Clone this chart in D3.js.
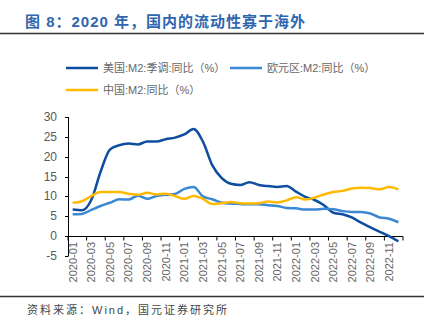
<!DOCTYPE html>
<html>
<head>
<meta charset="utf-8">
<script src="https://cdn.jsdelivr.net/npm/d3@7"></script>
<style>
  body { margin: 0; background: #fff; }
  svg { display: block; font-family: "Liberation Sans", Arial, "Noto Sans CJK SC", sans-serif; }
</style>
</head>
<body>
<svg id="vis" width="439" height="323"></svg>
<script>
// months 2020-01 .. 2022-12
var months = [];
for (var yr = 2020; yr <= 2022; yr++) {
  for (var m = 1; m <= 12; m++) months.push(yr + "-" + (m < 10 ? "0" + m : m));
}

var usM2 = [6.7, 6.5, 9.1, 16.2, 21.8, 22.9, 23.3, 23.1, 23.8, 23.8, 24.4, 24.8,
  25.6, 27.0, 23.8, 17.9, 14.7, 13.2, 12.9, 13.6, 12.9, 12.6, 12.4, 12.6,
  11.2, 9.9, 9.1, 7.8, 5.9, 5.5, 4.7, 3.4, 2.2, 1.1, 0.0, -1.3];
var euroM2 = [5.5, 5.6, 6.6, 7.6, 8.4, 9.3, 9.2, 10.2, 9.4, 10.1, 10.4, 10.6,
  11.9, 12.4, 10.0, 9.3, 8.4, 8.2, 8.1, 8.0, 8.0, 7.8, 7.6, 7.1,
  7.0, 6.7, 6.7, 6.9, 6.8, 6.3, 6.1, 6.1, 5.7, 4.7, 4.4, 3.5];
var chinaM2 = [8.4, 8.8, 10.1, 11.1, 11.1, 11.1, 10.7, 10.4, 10.9, 10.5, 10.7, 10.1,
  9.4, 10.1, 9.4, 8.1, 8.3, 8.6, 8.3, 8.2, 8.3, 8.7, 8.5, 9.0,
  9.8, 9.2, 9.7, 10.5, 11.1, 11.4, 12.0, 12.2, 12.1, 11.8, 12.4, 11.8];

var seriesNames = ["美国:M2:季调:同比（%）", "欧元区:M2:同比（%）", "中国:M2:同比（%）"];
var seriesColors = ["#0E4DA0", "#3B88D4", "#FFBA00"];
var yTicks = [-5, 0, 5, 10, 15, 20, 25, 30];

var svg = d3.select("#vis");
var textGray = "#666";

// title
svg.append("text")
  .text("图 8：2020 年，国内的流动性寡于海外")
  .attr("x", 25)
  .attr("y", 27)
  .style("font-size", "15px")
  .style("font-weight", "bold")
  .style("letter-spacing", "1px")
  .style("fill", "#2F66AE");

svg.append("line")
  .attr("x1", 0).attr("x2", 424)
  .attr("y1", 33.5).attr("y2", 33.5)
  .style("stroke", "#333").style("stroke-width", 1.5);

svg.append("line")
  .attr("x1", 0).attr("x2", 424)
  .attr("y1", 296.5).attr("y2", 296.5)
  .style("stroke", "#333").style("stroke-width", 1.5);

svg.append("text")
  .text("资料来源：Wind，国元证券研究所")
  .attr("x", 27)
  .attr("y", 314)
  .style("font-size", "11px")
  .style("letter-spacing", "2px")
  .style("fill", "#444");

// scales
var xScale = d3.scaleBand().domain(months).range([68, 403]).padding(0);
var yScale = d3.scaleLinear().domain([-5, 30]).range([256, 117]);

// y axis
var yAxis = svg.append("g");
yAxis.append("line")
  .attr("x1", 68.5).attr("x2", 68.5)
  .attr("y1", yScale(30)).attr("y2", yScale(-5))
  .style("stroke", "#000").style("stroke-width", 1);
yAxis.selectAll(".ytick")
  .data(yTicks)
  .enter()
  .append("line")
  .attr("x1", 65).attr("x2", 68.5)
  .attr("y1", d => Math.round(yScale(d)) + 0.5)
  .attr("y2", d => Math.round(yScale(d)) + 0.5)
  .style("stroke", "#000");
yAxis.selectAll(".ylabel")
  .data(yTicks)
  .enter()
  .append("text")
  .text(d => d)
  .attr("x", 57)
  .attr("y", d => yScale(d) + 4)
  .attr("text-anchor", "end")
  .style("font-size", "12px")
  .style("fill", "#595959");

// x axis at zero
var y0 = Math.round(yScale(0)) + 0.5;
svg.append("line")
  .attr("x1", 68).attr("x2", 403)
  .attr("y1", y0).attr("y2", y0)
  .style("stroke", "#000");
var tickIdx = d3.range(0, months.length + 1, 2);
svg.selectAll(".xtick")
  .data(tickIdx)
  .enter()
  .append("line")
  .attr("x1", i => (i < months.length ? xScale(months[i]) : xScale.range()[1]))
  .attr("x2", i => (i < months.length ? xScale(months[i]) : xScale.range()[1]))
  .attr("y1", y0).attr("y2", y0 + 4)
  .style("stroke", "#000");

svg.selectAll(".xlabel")
  .data(months.filter((d, i) => i % 2 === 0))
  .enter()
  .append("text")
  .text(d => d)
  .attr("transform", d => "translate(" + (xScale(d) + xScale.bandwidth() / 2 + 4) + "," + 242 + ") rotate(-90)")
  .attr("text-anchor", "end")
  .style("font-size", "11px")
  .style("fill", textGray);

// lines
var line = d3.line()
  .x((d, i) => xScale(months[i]) + xScale.bandwidth() / 2)
  .y(d => yScale(d))
  .curve(d3.curveMonotoneX);

[usM2, euroM2, chinaM2].forEach(function(vals, k) {
  svg.append("path")
    .datum(vals)
    .attr("d", line)
    .style("fill", "none")
    .style("stroke", seriesColors[k])
    .style("stroke-width", 2.5)
    .style("stroke-linejoin", "round");
});

// legend
var legendPos = [[66, 68], [230, 68], [66, 90]];
seriesNames.forEach(function(name, k) {
  var g = svg.append("g").attr("transform", "translate(" + legendPos[k][0] + "," + legendPos[k][1] + ")");
  g.append("line")
    .attr("x1", 0).attr("x2", 32)
    .attr("y1", 0).attr("y2", 0)
    .style("stroke", seriesColors[k])
    .style("stroke-width", 2.5);
  g.append("text")
    .text(name)
    .attr("x", 37)
    .attr("y", 4)
    .style("font-size", "11px")
    .style("fill", textGray);
});
</script>
</body>
</html>
